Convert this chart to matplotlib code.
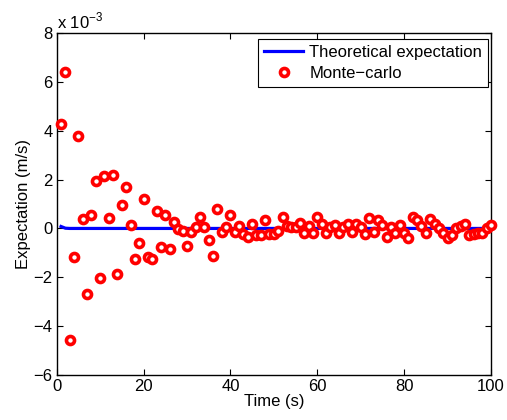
import matplotlib
matplotlib.use("Agg")
import matplotlib.pyplot as plt
from matplotlib.ticker import FuncFormatter

# Data (expectation values in units of 1e-3 m/s)
time = list(range(1, 101))
monte_carlo = [
    4.27, 6.40, -4.57, -1.17, 3.80, 0.37, -2.70, 0.57, 1.94, -2.04,
    2.13, 0.41, 2.19, -1.85, 0.94, 1.69, 0.14, -1.27, -0.59, 1.22,
    -1.17, -1.25, 0.70, -0.75, 0.55, -0.86, 0.27, -0.04, -0.10, -0.72,
    -0.13, 0.05, 0.48, 0.05, -0.47, -1.13, 0.78, -0.13, 0.07, 0.56,
    -0.13, 0.11, -0.24, -0.37, 0.17, -0.27, -0.27, 0.35, -0.24, -0.24,
    -0.11, 0.46, 0.10, 0.07, 0.07, 0.24, -0.20, 0.10, -0.20, 0.45,
    0.20, -0.20, 0.07, 0.14, -0.20, 0.07, 0.18, -0.13, 0.18, 0.04,
    -0.24, 0.41, -0.16, 0.34, 0.14, -0.34, 0.07, -0.20, 0.14, -0.20,
    -0.40, 0.48, 0.34, 0.10, -0.20, 0.37, 0.18, 0.00, -0.20, -0.40,
    -0.27, 0.00, 0.11, 0.20, -0.27, -0.22, -0.20, -0.20, 0.00, 0.15,
]
theoretical = [0.08, 0.01] + [0.0] * 98

scale = 1e-3
y_ticks = [-6, -4, -2, 0, 2, 4, 6, 8]
x_ticks = [0, 20, 40, 60, 80, 100]

plt.rcParams['font.family'] = ['Liberation Sans', 'DejaVu Sans']
plt.rcParams['font.size'] = 12

fig = plt.figure(figsize=(5.07, 4.2), dpi=100)
ax = fig.add_axes([0.1118, 0.1071, 0.8566, 0.8143])

ax.plot(time, [v * scale for v in theoretical], color='#0000ff', lw=2.3,
        label='Theoretical expectation', zorder=2)
ax.plot(time, [v * scale for v in monte_carlo], linestyle='none', marker='o',
        markersize=5.8, markeredgewidth=2.6, markeredgecolor='#ff0000',
        markerfacecolor='white', label='Monte\u2212carlo', zorder=3,
        clip_on=False)

ax.set_xlim(0, 100)
ax.set_ylim(-6 * scale, 8 * scale)
ax.set_xticks(x_ticks)
ax.set_yticks([t * scale for t in y_ticks])
ax.yaxis.set_major_formatter(FuncFormatter(lambda v, p: f"{v / scale:g}".replace('-', '\u2212')))
ax.tick_params(direction='in', top=True, right=True, length=4, width=0.8, pad=3)
for s in ax.spines.values():
    s.set_linewidth(1.0)

ax.set_xlabel('Time (s)', labelpad=0)
ax.set_ylabel('Expectation (m/s)', labelpad=2)
ax.text(0.0, 1.005, 'x 10$^{\\mathregular{-3}}$', transform=ax.transAxes,
        ha='left', va='bottom')

leg = ax.legend(loc='upper right', bbox_to_anchor=(0.993, 0.982), frameon=True,
                fancybox=False, edgecolor='black', framealpha=1,
                borderpad=0.35, handlelength=2.35, handletextpad=0.35,
                labelspacing=0.35, borderaxespad=0)
leg.get_frame().set_linewidth(0.8)

fig.savefig('out.png', dpi=100)
